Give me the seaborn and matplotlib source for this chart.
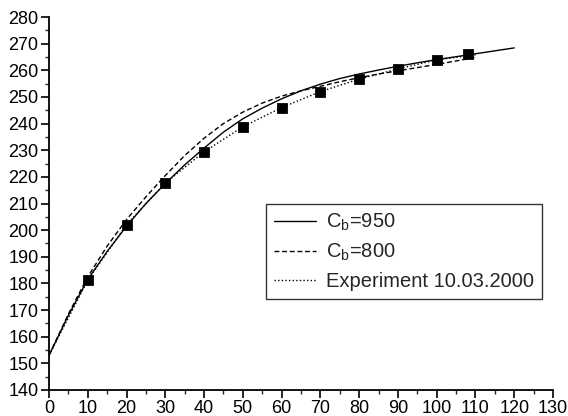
import numpy as np
import pandas as pd
import seaborn as sns
from matplotlib import pyplot as plt

# model curves
x950 = [0, 5, 10, 15, 20, 25, 30, 35, 40, 45, 50, 55, 60, 65, 70, 75, 80, 85, 90, 95, 100, 105, 110, 115, 120]
y950 = [153, 168, 181.5, 192, 201.5, 210, 217.5, 224.5, 230.8, 236.8, 241.8, 245.8, 249.3, 252.3, 254.8, 256.9, 258.6,
        260.1, 261.5, 262.8, 264, 265.1, 266.2, 267.3, 268.4]

x800 = [0, 5, 10, 15, 20, 25, 30, 35, 40, 45, 50, 55, 60, 65, 70, 75, 80, 85, 90, 95, 100, 105, 110]
y800 = [153, 168.5, 182.5, 194, 204, 212.5, 220.5, 228, 234.5, 240, 244.3, 247.7, 250.3, 252.3, 254, 255.7,
        257.2, 258.6, 259.8, 261, 262.2, 263.5, 264.8]

# experiment 10.03.2000
xExpLine = [0, 10, 20, 30, 40, 50, 60, 70, 80, 90, 100, 110]
yExpLine = [153, 181.2, 202.1, 217.7, 229.4, 238.8, 246, 252, 256.7, 260.5, 263.9, 265.8]
xExp = [10, 20, 30, 40, 50, 60, 70, 80, 90, 100, 108]
yExp = [181.2, 202.1, 217.7, 229.4, 238.8, 246, 252, 256.7, 260.5, 263.9, 266.2]

labels = [r'C$_\mathrm{b}$=950', r'C$_\mathrm{b}$=800', 'Experiment 10.03.2000']

sns.set_theme(style='ticks')
plt.rcParams['font.family'] = ['Liberation Sans', 'DejaVu Sans']
plt.rcParams['mathtext.fontset'] = 'custom'
plt.rcParams['mathtext.rm'] = 'Liberation Sans'
plt.rcParams['mathtext.it'] = 'Liberation Sans:italic'

fig = plt.figure(figsize=(5.68, 4.16), dpi=100)
ax = fig.add_axes([49 / 568, 1 - 390 / 416, 504 / 568, 373 / 416])

sns.lineplot(x=x950, y=y950, ax=ax, color='black', lw=1.0, sort=False, label=labels[0])
sns.lineplot(x=x800, y=y800, ax=ax, color='black', lw=1.0, sort=False, label=labels[1],
             linestyle=(0, (3.5, 2)))
sns.lineplot(x=xExpLine, y=yExpLine, ax=ax, color='black', lw=1.0, sort=False, label=labels[2],
             linestyle=(0, (1, 1.6)))
sns.scatterplot(x=xExp, y=yExp, ax=ax, marker='s', s=50, color='black', edgecolor='black', zorder=5)

ax.set_xlim(0, 130)
ax.set_ylim(140, 280)
ax.set_xticks(np.arange(0, 131, 10))
ax.set_yticks(np.arange(140, 281, 10))
ax.set_xticks(np.arange(5, 130, 10), minor=True)
ax.set_yticks(np.arange(145, 280, 10), minor=True)
ax.tick_params(which='major', length=5.5, width=1.2, labelsize=13, colors='black', pad=2)
ax.tick_params(which='minor', length=3, width=1.0)
for side in ['top', 'right']:
    ax.spines[side].set_visible(False)
for side in ['left', 'bottom']:
    ax.spines[side].set_linewidth(1.3)
    ax.spines[side].set_color('black')
ax.set(xlabel='', ylabel='')

leg = ax.legend(loc='upper left', bbox_to_anchor=(0.43, 0.4987), fontsize=14.5, frameon=True,
                fancybox=False, edgecolor='black', handlelength=2.1, handletextpad=0.5,
                borderpad=0.4, labelspacing=0.42, borderaxespad=0)
leg.get_frame().set_linewidth(1.0)

plt.savefig('out.png', dpi=100)
